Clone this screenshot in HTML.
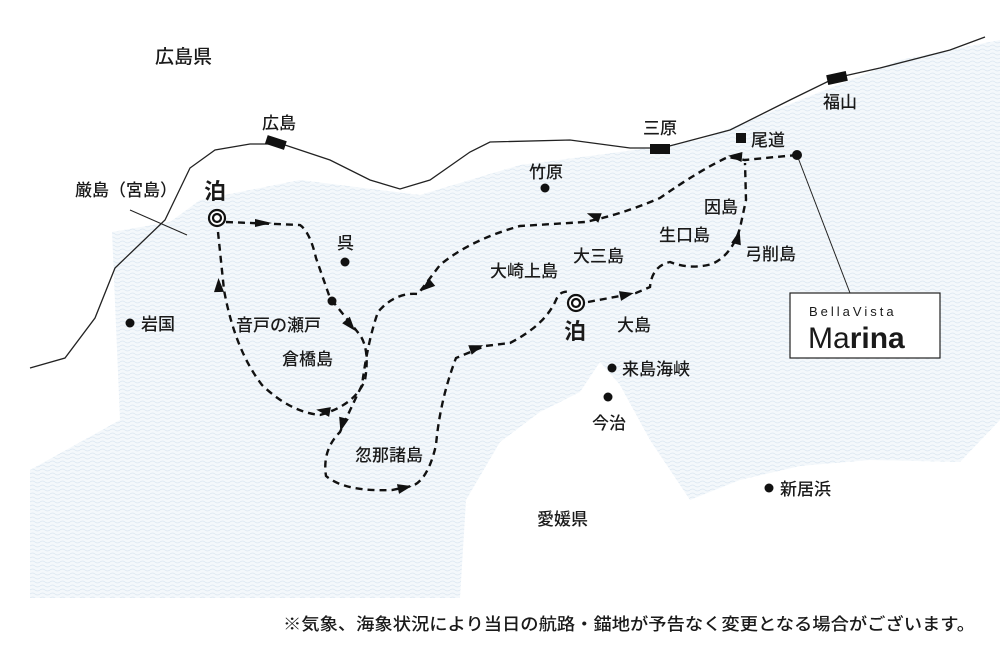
<!DOCTYPE html>
<html><head><meta charset="utf-8"><style>
html,body{margin:0;padding:0;background:#fff;}
svg{display:block;}
text{font-family:"Liberation Sans","Noto Sans CJK JP",sans-serif;fill:#1a1a1a;}
</style></head><body>
<svg width="1000" height="651" viewBox="0 0 1000 651" xmlns="http://www.w3.org/2000/svg">
<defs>
<pattern id="wv" width="10" height="4" patternUnits="userSpaceOnUse">
<rect width="10" height="4" fill="#f4f8fb"/>
<path d="M0 2 Q2.5 0 5 2 T10 2" fill="none" stroke="#dbe7f1" stroke-width="0.8"/>
</pattern>
</defs>
<path fill="url(#wv)" d="M112 232 L170 222 L200 200 L300 180 L420 195 L520 165 L620 152 L700 140 L800 100 L900 60 L1000 40 L1000 420 L960 462 L870 460 L800 466 L740 480 L690 500 L650 440 L620 385 L600 362 L580 392 L540 412 L500 442 L466 500 L460 598 L30 598 L30 470 L120 420 Z"/>
<path d="M30 368 L65 358 L95 318 L115 268 L165 220 L190 168 L215 150 L250 144 L282 144 L330 160 L370 180 L400 189 L430 180 L470 152 L490 142 L570 140 L630 148 L662 148 L730 130 L790 100 L835 78 L880 68 L950 50 L985 37" fill="none" stroke="#222" stroke-width="1.3"/>
<rect x="266" y="138" width="20" height="9" fill="#111" transform="rotate(18 276 142)"/>
<rect x="650" y="144" width="20" height="10" fill="#111"/>
<rect x="827" y="73" width="20" height="10" fill="#111" transform="rotate(-12 837 78)"/>
<line x1="130" y1="210" x2="187" y2="235" stroke="#222" stroke-width="1"/>
<line x1="797" y1="155" x2="850" y2="293" stroke="#222" stroke-width="1"/>
<g fill="none" stroke="#111" stroke-width="2.4" stroke-dasharray="7 5">
<path d="M226 222 L300 225 Q310 232 316 258 L330 298 L360 335 Q370 350 365 380 Q355 405 320 415 Q290 412 262 385 Q235 350 224 290 L218 232"/>
<path d="M797 155 L765 158 L745 160 L728 157 Q700 170 660 198 Q620 215 585 222 L520 226 Q470 240 440 265 L418 294 Q395 292 378 312 Q368 340 362 385 Q350 410 340 432 Q322 450 326 476 Q345 492 392 490 L412 486 Q428 480 436 445 Q440 400 456 358 L485 346 L510 343 Q545 325 556 300 Q560 290 570 292"/>
<path d="M588 302 L636 293 L650 287 Q652 266 670 262 Q690 270 712 264 Q732 255 740 228 L746 200 L745 163"/>
</g>
<g fill="#111">
<polygon points="255,219 272,223 255,227"/>
<polygon points="0,-5 14,0 0,5" transform="translate(346 320) rotate(50)"/>
<polygon points="0,-5 14,0 0,5" transform="translate(330 412) rotate(190)"/>
<polygon points="0,-5 14,0 0,5" transform="translate(219 292) rotate(-92)"/>
<polygon points="0,-5 14,0 0,5" transform="translate(742 157) rotate(185)"/>
<polygon points="0,-5 14,0 0,5" transform="translate(600 218) rotate(200)"/>
<polygon points="0,-5 14,0 0,5" transform="translate(432 282) rotate(140)"/>
<polygon points="0,-5 14,0 0,5" transform="translate(344 418) rotate(105)"/>
<polygon points="0,-5 14,0 0,5" transform="translate(398 489) rotate(-12)"/>
<polygon points="0,-5 14,0 0,5" transform="translate(470 350) rotate(-20)"/>
<polygon points="0,-5 14,0 0,5" transform="translate(620 296) rotate(-12)"/>
<polygon points="0,-5 14,0 0,5" transform="translate(736 244) rotate(-75)"/>
</g>
<g fill="#fff" stroke="#111" stroke-width="2.2">
<circle cx="217" cy="218" r="8"/><circle cx="217" cy="218" r="4"/>
<circle cx="576" cy="303" r="8"/><circle cx="576" cy="303" r="4"/>
</g>
<g fill="#111">
<circle cx="545" cy="188" r="4.5"/><circle cx="345" cy="262" r="4.5"/>
<circle cx="130" cy="323" r="4.5"/><circle cx="332" cy="301" r="4.5"/>
<circle cx="612" cy="368" r="4.5"/><circle cx="608" cy="397" r="4.5"/>
<circle cx="769" cy="488" r="4.5"/><circle cx="797" cy="155" r="5"/>
<rect x="736" y="133" width="10" height="10"/>
</g>
<g font-size="17" font-weight="500">
<text x="155" y="63" font-size="19">広島県</text>
<text x="262" y="129">広島</text>
<text x="643" y="134">三原</text>
<text x="823" y="108">福山</text>
<text x="751" y="146">尾道</text>
<text x="529" y="178">竹原</text>
<text x="337" y="249">呉</text>
<text x="141" y="330">岩国</text>
<text x="75" y="196">厳島（宮島）</text>
<text x="236" y="331">音戸の瀬戸</text>
<text x="282" y="365">倉橋島</text>
<text x="355" y="461">忽那諸島</text>
<text x="490" y="277">大崎上島</text>
<text x="573" y="262">大三島</text>
<text x="704" y="213">因島</text>
<text x="659" y="241">生口島</text>
<text x="745" y="260">弓削島</text>
<text x="617" y="331">大島</text>
<text x="622" y="375">来島海峡</text>
<text x="592" y="429">今治</text>
<text x="780" y="495">新居浜</text>
<text x="537" y="525">愛媛県</text>
<text x="204" y="199" font-size="22" font-weight="bold">泊</text>
<text x="564" y="339" font-size="22" font-weight="bold">泊</text>
<text x="283" y="630" font-size="17" textLength="692" lengthAdjust="spacingAndGlyphs">※気象、海象状況により当日の航路・錨地が予告なく変更となる場合がございます。</text>
</g>
<rect x="790" y="293" width="150" height="65" fill="#fff" stroke="#222" stroke-width="1.2"/>
<text x="809" y="316" font-size="13" letter-spacing="3" fill="#333">BellaVista</text>
<text x="808" y="348" font-size="30" fill="#222">Ma<tspan font-weight="bold">rina</tspan></text>
</svg>
</body></html>
